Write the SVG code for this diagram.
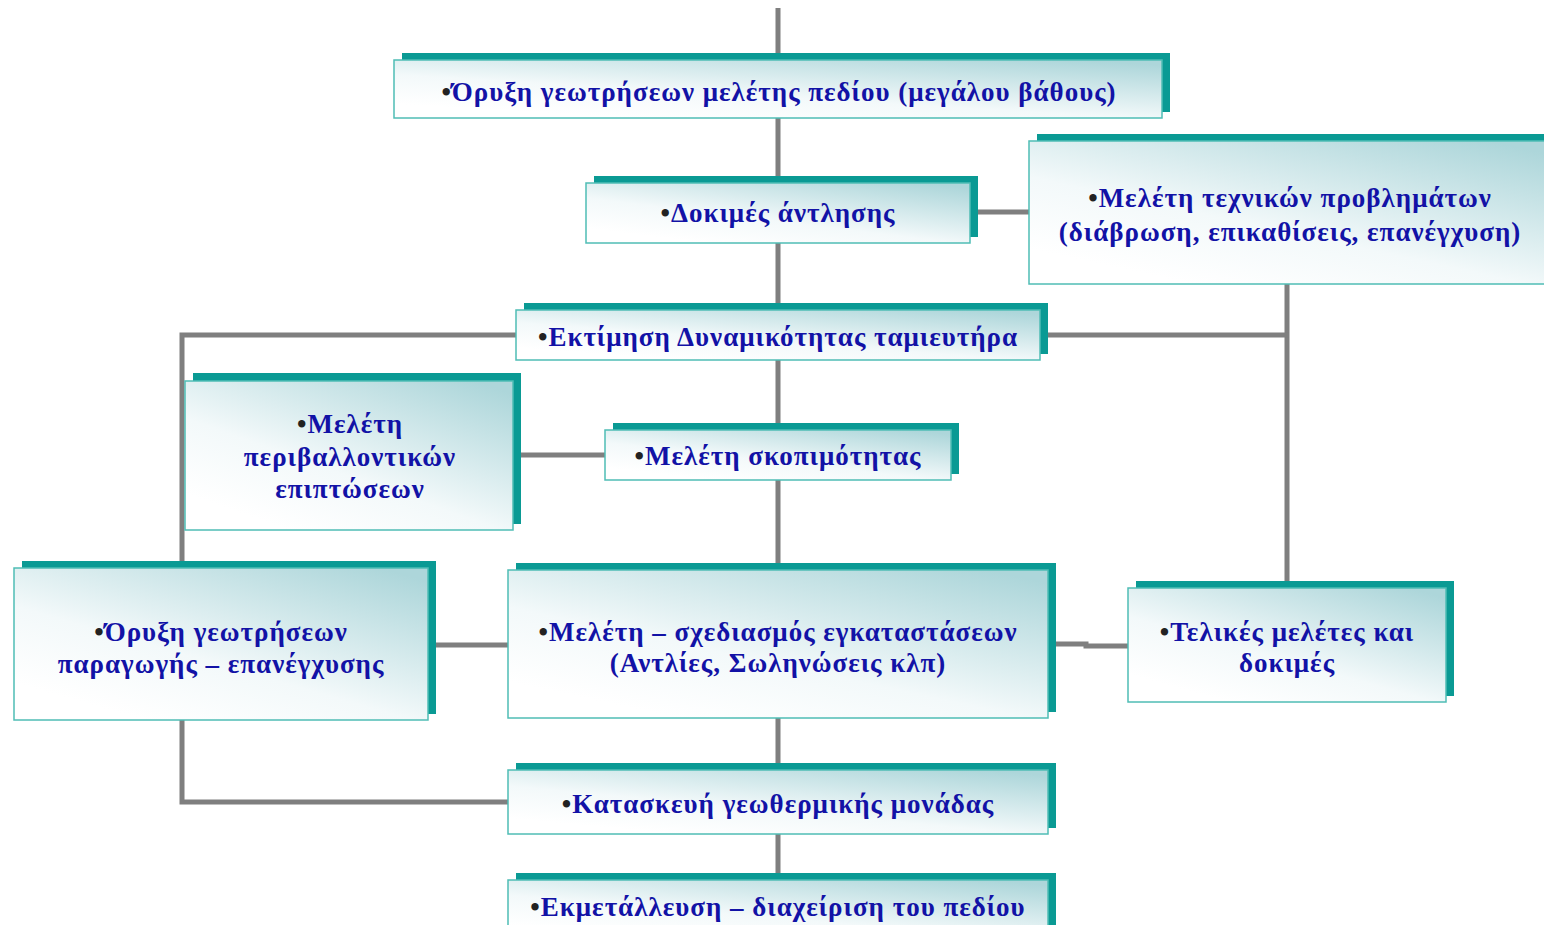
<svg xmlns="http://www.w3.org/2000/svg" width="1544" height="925" viewBox="0 0 1544 925">
<defs>
<linearGradient id="g" x1="0.25" y1="0.95" x2="0.95" y2="0.05">
<stop offset="0" stop-color="#ffffff"/>
<stop offset="0.35" stop-color="#f3f9fa"/>
<stop offset="1" stop-color="#add6da"/>
</linearGradient>
<style>
.sh{fill:#0a9a94}
.bx{fill:url(#g);stroke:#4fbdb5;stroke-width:1.5}
.c{fill:none;stroke:#7f7f7f;stroke-width:5}
text{font-family:"Liberation Serif","DejaVu Serif",serif;font-weight:bold;font-size:27px;fill:#1212a6;text-anchor:middle;letter-spacing:1px}
.b{fill:#222}
</style>
</defs>
<rect width="1544" height="925" fill="#ffffff"/>
<g id="connectors">
<line class="c" x1="778" y1="8" x2="778" y2="880"/>
<line class="c" x1="970" y1="212" x2="1029" y2="212"/>
<line class="c" x1="1287" y1="284" x2="1287" y2="583"/>
<line class="c" x1="1040" y1="335" x2="1289" y2="335"/>
<polyline class="c" points="516,335 182,335 182,568"/>
<polyline class="c" points="182,720 182,802 508,802"/>
<line class="c" x1="513" y1="455" x2="605" y2="455"/>
<line class="c" x1="428" y1="645" x2="508" y2="645"/>
<polyline class="c" points="1048,644 1086,644 1086,646 1128,646"/>
</g>
<g id="n1">
<rect class="sh" x="402" y="53" width="768" height="59"/>
<rect class="bx" x="394" y="60" width="768" height="58"/>
<text x="779" y="101"><tspan class="b">•</tspan>Όρυξη γεωτρήσεων μελέτης πεδίου (μεγάλου βάθους)</text>
</g>
<g id="n2">
<rect class="sh" x="594" y="176" width="384" height="61"/>
<rect class="bx" x="586" y="183" width="384" height="60"/>
<text x="778" y="222"><tspan class="b">•</tspan>Δοκιμές άντλησης</text>
</g>
<g id="n3">
<rect class="sh" x="1037" y="134" width="510" height="144"/>
<rect class="bx" x="1029" y="141" width="518" height="143"/>
<text x="1290" y="207"><tspan class="b">•</tspan>Μελέτη τεχνικών προβλημάτων</text>
<text x="1290" y="241">(διάβρωση, επικαθίσεις, επανέγχυση)</text>
</g>
<g id="n4">
<rect class="sh" x="524" y="303" width="524" height="51"/>
<rect class="bx" x="516" y="310" width="524" height="50"/>
<text x="778" y="346"><tspan class="b">•</tspan>Εκτίμηση Δυναμικότητας ταμιευτήρα</text>
</g>
<g id="n5">
<rect class="sh" x="193" y="373" width="328" height="151"/>
<rect class="bx" x="185" y="381" width="328" height="149"/>
<text x="350" y="433"><tspan class="b">•</tspan>Μελέτη</text>
<text x="350" y="466">περιβαλλοντικών</text>
<text x="350" y="498">επιπτώσεων</text>
</g>
<g id="n6">
<rect class="sh" x="613" y="423" width="346" height="51"/>
<rect class="bx" x="605" y="430" width="346" height="50"/>
<text x="778" y="465"><tspan class="b">•</tspan>Μελέτη σκοπιμότητας</text>
</g>
<g id="n7">
<rect class="sh" x="22" y="561" width="414" height="153"/>
<rect class="bx" x="14" y="568" width="414" height="152"/>
<text x="221" y="641"><tspan class="b">•</tspan>Όρυξη γεωτρήσεων</text>
<text x="221" y="673">παραγωγής – επανέγχυσης</text>
</g>
<g id="n8">
<rect class="sh" x="516" y="563" width="540" height="149"/>
<rect class="bx" x="508" y="570" width="540" height="148"/>
<text x="778" y="641"><tspan class="b">•</tspan>Μελέτη – σχεδιασμός εγκαταστάσεων</text>
<text x="778" y="672">(Αντλίες, Σωληνώσεις κλπ)</text>
</g>
<g id="n9">
<rect class="sh" x="1136" y="581" width="318" height="115"/>
<rect class="bx" x="1128" y="588" width="318" height="114"/>
<text x="1287" y="641"><tspan class="b">•</tspan>Τελικές μελέτες και</text>
<text x="1287" y="672">δοκιμές</text>
</g>
<g id="n10">
<rect class="sh" x="516" y="763" width="540" height="65"/>
<rect class="bx" x="508" y="770" width="540" height="64"/>
<text x="778" y="813"><tspan class="b">•</tspan>Κατασκευή γεωθερμικής μονάδας</text>
</g>
<g id="n11">
<rect class="sh" x="516" y="873" width="540" height="60"/>
<rect class="bx" x="508" y="880" width="540" height="60"/>
<text x="778" y="916"><tspan class="b">•</tspan>Εκμετάλλευση – διαχείριση του πεδίου</text>
</g>
</svg>
